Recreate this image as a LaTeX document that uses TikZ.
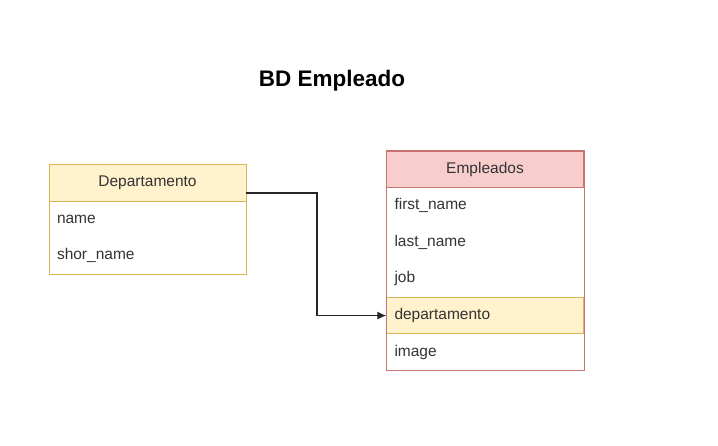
\documentclass[tikz,border=0pt]{standalone}
\usepackage{fontspec}
\setmainfont{Liberation Sans}
\usetikzlibrary{arrows.meta,positioning,calc}

\definecolor{yelfill}{HTML}{FFF2CC}
\definecolor{yelline}{HTML}{D6B656}
\definecolor{redfill}{HTML}{F8CECC}
\definecolor{redline}{HTML}{C87470}

\tikzset{
  tablehead/.style={draw=#1, minimum width=197pt, minimum height=36.5pt,
    inner sep=0pt, font=\fontsize{15.5}{18}\selectfont, text=black!80},
  tablerow/.style={minimum width=197pt, minimum height=36.2pt,
    inner sep=0pt, text width=181pt, align=left,
    font=\fontsize{15.5}{18}\selectfont, text=black!80},
  link/.style={line width=1.2pt, black!85, -{Latex[length=9pt,width=8pt]}}
}

\begin{document}
\begin{tikzpicture}[x=1pt,y=-1pt]
        % Fix the page size
        \useasboundingbox (0,0) rectangle (718,445);

        % Title
        \node[font=\fontsize{22.5}{26}\selectfont\bfseries] (title) at (332,81) {BD Empleado};

        % Table Departamento
        \node[tablehead=yelline, fill=yelfill] (dep-h) at (147.5,182.5) {Departamento};
        \node[tablerow, below=0pt of dep-h] (dep-name) {name};
        \node[tablerow, below=0pt of dep-name] (dep-short) {shor\_name};
        \draw[yelline] (dep-h.north west) rectangle (dep-short.south east);

        % Table Empleados
        \node[tablehead=redline, fill=redfill] (emp-h) at (485,169) {Empleados};
        \node[tablerow, below=0pt of emp-h] (emp-first) {first\_name};
        \node[tablerow, below=0pt of emp-first] (emp-last) {last\_name};
        \node[tablerow, below=0pt of emp-last] (emp-job) {job};
        \node[tablerow, below=0pt of emp-job, fill=yelfill, draw=yelline] (emp-dep) {departamento};
        \node[tablerow, below=0pt of emp-dep] (emp-img) {image};
        \draw[redline] (emp-h.north west) rectangle (emp-img.south east);

        % Relation
        \coordinate (bend) at (317,193);
        \draw[link] ([yshift=-10.5pt]dep-h.east) -- (bend) |- (emp-dep.west);

    \end{tikzpicture}
\end{document}
